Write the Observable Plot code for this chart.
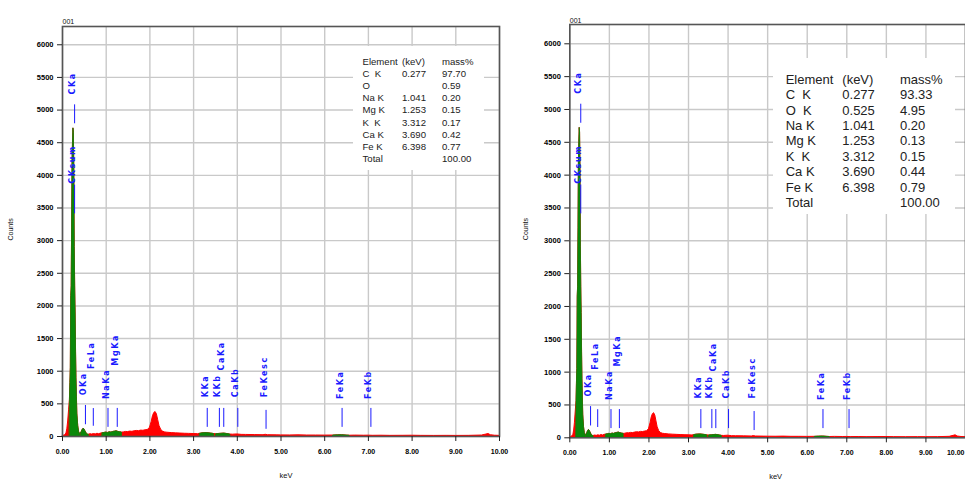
<!DOCTYPE html>
<html><head><meta charset="utf-8">
<script src="https://cdn.jsdelivr.net/npm/d3@7"></script>
<script src="https://cdn.jsdelivr.net/npm/@observablehq/plot@0.6"></script>
<style>
body{margin:0;background:#fff;}
#wrap{position:relative;width:965px;height:481px;overflow:hidden;background:#fff;font-family:"Liberation Sans",Arial,sans-serif;}
.panel{position:absolute;top:0;}
.tbl{position:absolute;background:#fff;color:#222;}
.tbl div{position:absolute;line-height:1;white-space:pre;}
</style></head><body><div id="wrap"></div>
<script>
// ---- spectrum ----
const spectrumKeV = [0.00,0.03,0.06,0.09,0.11,0.13,0.15,0.17,0.18,0.19,0.20,0.21,0.22,0.23,0.24,0.25,0.26,0.27,0.28,0.29,0.30,0.31,0.32,0.33,0.34,0.36,0.38,0.40,0.42,0.44,0.46,0.48,0.50,0.52,0.54,0.56,0.58,0.60,0.64,0.68,0.72,0.76,0.80,0.84,0.88,0.92,0.96,1.00,1.04,1.08,1.12,1.16,1.20,1.24,1.28,1.32,1.36,1.40,1.45,1.50,1.55,1.60,1.65,1.70,1.75,1.80,1.85,1.90,1.95,2.00,2.04,2.07,2.10,2.13,2.16,2.19,2.22,2.26,2.30,2.35,2.40,2.50,2.60,2.70,2.80,2.90,3.00,3.10,3.15,3.20,3.30,3.40,3.47,3.52,3.60,3.70,3.80,3.84,3.90,4.00,4.10,4.20,4.40,4.60,4.65,4.70,4.90,5.00,5.20,5.40,5.60,5.80,6.00,6.20,6.30,6.40,6.50,6.57,6.70,6.90,7.00,7.10,7.30,7.50,7.80,8.00,8.20,8.50,8.80,9.00,9.30,9.60,9.70,9.75,9.80,9.90,10.00];
const spectrumCounts = [0,12,20,45,110,230,400,560,820,1050,2150,2300,3200,4200,4500,4720,4650,4100,2900,2300,1900,1300,900,600,350,160,70,40,45,70,100,118,110,85,60,40,30,28,35,30,38,32,42,35,45,50,55,60,55,65,60,70,75,80,70,65,60,62,70,68,75,72,80,85,82,90,88,95,100,130,220,310,360,375,340,250,160,100,75,62,58,52,48,45,42,40,38,36,42,48,52,45,38,35,40,45,35,30,28,32,25,24,22,20,26,20,18,17,16,18,15,15,14,15,18,20,15,12,14,12,13,11,12,10,11,12,10,9,10,9,10,15,30,38,20,12,10];
// regions of interest drawn in green
const roiStart = [0.17,0.42,0.92,3.15,3.52,6.20];
const roiEnd   = [0.40,0.60,1.36,3.47,3.84,6.57];
// element markers
const markerNames     = ["CKa","CKsum","OKa","FeLa","NaKa","MgKa","KKa","KKb","CaKa","CaKb","FeKesc","FeKa","FeKb"];
const markerKeV       = [0.277,0.277,0.525,0.705,1.041,1.253,3.312,3.590,3.690,4.012,4.658,6.398,7.057];
const markerLabelBase = [5240,3870,630,1035,575,1085,600,600,1010,600,600,575,575];
const markerLineLow   = [4790,3410,180,157,140,140,140,140,140,140,110,140,140];
const markerLineHigh  = [5080,3850,475,428,430,430,430,430,430,430,400,430,430];
// axes
const xTicks = [0,1,2,3,4,5,6,7,8,9,10];
const yTicks = [0,500,1000,1500,2000,2500,3000,3500,4000,4500,5000,5500,6000];
const gridY = yTicks.filter(d => d > 0);
// tables
const tableHeader = ["Element","(keV)","mass%"];
const tableElementsA = ["C  K","O","Na K","Mg K","K  K","Ca K","Fe K","Total"];
const tableKeVA      = ["0.277","","1.041","1.253","3.312","3.690","6.398",""];
const tableMassA     = ["97.70","0.59","0.20","0.15","0.17","0.42","0.77","100.00"];
const tableElementsB = ["C  K","O  K","Na K","Mg K","K  K","Ca K","Fe K","Total"];
const tableKeVB      = ["0.277","0.525","1.041","1.253","3.312","3.690","6.398",""];
const tableMassB     = ["93.33","4.95","0.20","0.13","0.15","0.44","0.79","100.00"];
const panelId = "001";

const spec = spectrumKeV.map((k, i) => ({keV: k, counts: spectrumCounts[i]}));
const roiPts = [];
roiStart.forEach((a, r) => {
  spec.forEach(p => { if (p.keV >= a - 1e-9 && p.keV <= roiEnd[r] + 1e-9) roiPts.push({...p, roi: r}); });
});
const markers = markerNames.map((n, i) => ({name: n, keV: markerKeV[i], base: markerLabelBase[i], lo: markerLineLow[i], hi: markerLineHigh[i]}));

const RED = "#ff0000", GREEN = "#0a880a", BLUE = "#1a1aff";

function panel(o) {
  const fmt = d3.format(".2f");
  const lastTick = xTicks[xTicks.length - 1];
  const innerTicks = o.lastEnd ? xTicks.slice(0, -1) : xTicks;
  const tickText = {frameAnchor: "bottom", dy: 17, fontWeight: "bold", fontSize: 7, fill: "#000"};
  const svg = Plot.plot({
    width: o.width, height: 481,
    marginLeft: o.marginLeft, marginRight: o.marginRight, marginTop: o.marginTop, marginBottom: o.marginBottom,
    x: {domain: [0, 10]},
    y: {domain: [0, o.yTop]},
    style: {fontFamily: "Liberation Sans, Arial, sans-serif", fontSize: "7.5px", color: "#000", background: "transparent"},
    marks: [
      Plot.gridX(xTicks, {stroke: "#c9c9c9", strokeOpacity: 1, strokeWidth: 1.4}),
      Plot.gridY(gridY, {stroke: "#c9c9c9", strokeOpacity: 1, strokeWidth: 1.4}),
      Plot.areaY(spec, {x: "keV", y: "counts", fill: RED, stroke: RED, strokeWidth: 1, curve: "linear"}),
      Plot.areaY(roiPts, {x: "keV", y: "counts", z: "roi", fill: GREEN, stroke: GREEN, strokeWidth: 0.8, curve: "linear"}),
      Plot.ruleX(markers, {x: "keV", y1: "lo", y2: "hi", stroke: BLUE, strokeWidth: 1}),
      Plot.text(markers, {x: "keV", y: "base", text: "name", rotate: -90, textAnchor: "start", fill: BLUE, fontSize: 8, fontWeight: "bold", dx: -2, fontFamily: "DejaVu Sans, sans-serif"}),
      Plot.frame({stroke: "#555", strokeWidth: 1.6}),
      Plot.axisY(yTicks, {tickSize: 5, tickPadding: 4, tickFormat: d3.format("d"), fontWeight: "bold", fontSize: 7.5, label: null, stroke: "#222"}),
      Plot.axisX(xTicks, {tickSize: 5, text: null, label: null, stroke: "#222"}),
      Plot.text(innerTicks, {...tickText, x: d => d, text: d => fmt(d), textAnchor: "middle"}),
      o.lastEnd ? Plot.text([lastTick], {...tickText, x: d => d, text: d => fmt(d), textAnchor: "end", dx: -1}) : null,
      Plot.text(["keV"], {frameAnchor: "bottom", dy: 41, dx: o.keVdx, fontSize: 7.5, fill: "#111"}),
      Plot.text(["Counts"], {frameAnchor: "left", rotate: -90, dx: o.countsDx, dy: 9, fontSize: 7, fill: "#111"}),
      Plot.text([panelId], {frameAnchor: "top-left", textAnchor: "start", dy: o.idDy, fontSize: 7, fill: "#111"})
    ]
  });
  d3.select(svg).selectAll(`g[aria-label="text"][fill="${BLUE}"] text`).style("letter-spacing", "1.6px");
  svg.classList.add("panel");
  svg.style.left = o.left + "px";
  svg.style.overflow = "hidden";
  return svg;
}

const wrap = document.getElementById("wrap");
wrap.appendChild(panel({left: 0, width: 520, marginLeft: 62, marginRight: 21, marginTop: 26, marginBottom: 45, yTop: 6280, keVdx: 5, countsDx: -52, idDy: -7, lastEnd: false}));
wrap.appendChild(panel({left: 520, width: 445, marginLeft: 49.3, marginRight: 0, marginTop: 24, marginBottom: 43.7, yTop: 6294, keVdx: 8, countsDx: -44, idDy: -6, lastEnd: true}));

function table(box, cols, y0, step, fs, elems, kevs, mass) {
  const t = document.createElement("div");
  t.className = "tbl";
  Object.assign(t.style, {left: box[0] + "px", top: box[1] + "px", width: box[2] + "px", height: box[3] + "px"});
  const rows = [tableHeader].concat(elems.map((e, i) => [e, kevs[i], mass[i]]));
  rows.forEach((r, ri) => r.forEach((txt, ci) => {
    const d = document.createElement("div");
    d.textContent = txt;
    d.style.fontSize = fs + "px";
    d.style.left = (cols[ci] - box[0]) + "px";
    d.style.top = (y0 + ri * step - 0.49 * fs - box[1]) + "px";
    t.appendChild(d);
  }));
  wrap.appendChild(t);
}
table([353, 46, 131, 124], [362.5, 402, 442], 61.5, 12.15, 9.6, tableElementsA, tableKeVA, tableMassA);
table([773, 58, 182, 156], [785.7, 842.3, 900], 79, 15.45, 13, tableElementsB, tableKeVB, tableMassB);
</script></body></html>
